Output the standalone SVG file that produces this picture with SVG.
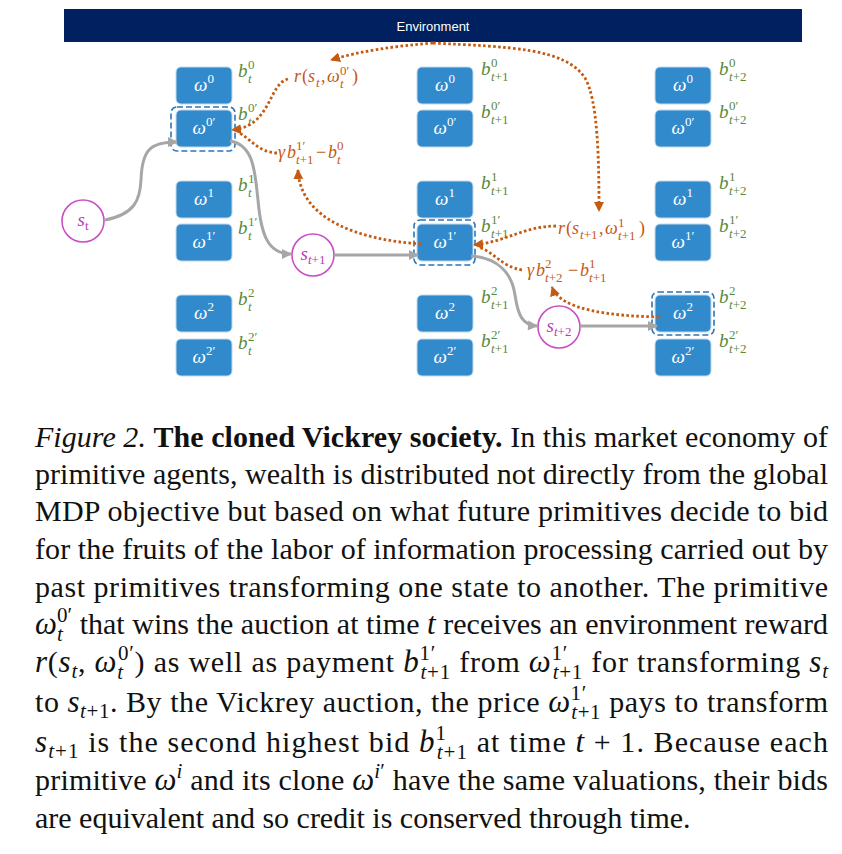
<svg xmlns="http://www.w3.org/2000/svg" width="842" height="854" viewBox="0 0 842 854">
<defs>
<style>
.box{fill:#318ACC;stroke:#C5D8EA;stroke-width:1}
.sel{fill:none;stroke:#2E75B6;stroke-width:1.6;stroke-dasharray:6 3}
.nt{font-family:"Liberation Serif",serif;font-style:italic;font-size:19px;fill:#fff;text-anchor:middle}
.ns{font-size:13px;font-style:normal}
.gl{font-family:"Liberation Serif",serif;font-style:italic;font-size:19px;fill:#5B8A3C}
.gs{font-size:13px;font-style:normal}
.i{font-style:italic}
.ol{font-family:"Liberation Serif",serif;font-size:18px;fill:#C55A11}
.os{font-size:13px}
.st{fill:#fff;stroke:#C94FC4;stroke-width:1.6}
.stt{font-family:"Liberation Serif",serif;font-style:italic;font-size:19px;fill:#B83DB3;text-anchor:middle}
.gr{fill:none;stroke:#A6A6A6;stroke-width:3}
.or{fill:none;stroke:#C55A11;stroke-width:2.8;stroke-dasharray:2.6 2.4}
.cap{font-family:"Liberation Serif","Times New Roman",serif;font-size:30px;fill:#111}
.b{font-weight:bold}
.m{font-style:italic;font-size:31px}
.sc{font-size:21px}
</style>
<marker id="ga" viewBox="0 0 10 10" refX="9" refY="5" markerWidth="11" markerHeight="10" markerUnits="userSpaceOnUse" orient="auto"><path d="M0,0 L10,5 L0,10 z" fill="#A6A6A6"/></marker>
<marker id="oa" viewBox="0 0 10 10" refX="9" refY="5" markerWidth="10" markerHeight="10" markerUnits="userSpaceOnUse" orient="auto"><path d="M0,0 L10,5 L0,10 z" fill="#C55A11"/></marker>
</defs>
<rect width="842" height="854" fill="#fff"/>

<g id="environment">
<rect x="64" y="9" width="738" height="33" fill="#002060"/>
<text x="433" y="31" font-family="Liberation Sans, sans-serif" font-size="13" fill="#fff" text-anchor="middle">Environment</text>
</g>

<!-- column t -->
<g id="c1-w0"><rect class="box" x="176" y="67" width="56" height="37" rx="5"/><text class="nt" x="204" y="91">ω<tspan class="ns" dy="-8">0</tspan></text>
<text class="gl"><tspan x="238" y="77">b</tspan><tspan class="gs" x="248" y="69">0</tspan><tspan class="gs i" x="248" y="83">t</tspan></text></g>
<g id="c1-w0p"><rect class="box" x="176" y="110" width="56" height="37" rx="5"/><text class="nt" x="204" y="134">ω<tspan class="ns" dy="-8">0′</tspan></text>
<text class="gl"><tspan x="238" y="120">b</tspan><tspan class="gs" x="248" y="112">0′</tspan><tspan class="gs i" x="248" y="126">t</tspan></text>
<rect class="sel" x="171" y="107" width="64" height="44" rx="6"/></g>
<g id="c1-w1"><rect class="box" x="176" y="181" width="56" height="37" rx="5"/><text class="nt" x="204" y="205">ω<tspan class="ns" dy="-8">1</tspan></text>
<text class="gl"><tspan x="238" y="191">b</tspan><tspan class="gs" x="248" y="183">1</tspan><tspan class="gs i" x="248" y="197">t</tspan></text></g>
<g id="c1-w1p"><rect class="box" x="176" y="224" width="56" height="37" rx="5"/><text class="nt" x="204" y="248">ω<tspan class="ns" dy="-8">1′</tspan></text>
<text class="gl"><tspan x="238" y="234">b</tspan><tspan class="gs" x="248" y="226">1′</tspan><tspan class="gs i" x="248" y="240">t</tspan></text></g>
<g id="c1-w2"><rect class="box" x="176" y="295" width="56" height="37" rx="5"/><text class="nt" x="204" y="319">ω<tspan class="ns" dy="-8">2</tspan></text>
<text class="gl"><tspan x="238" y="305">b</tspan><tspan class="gs" x="248" y="297">2</tspan><tspan class="gs i" x="248" y="311">t</tspan></text></g>
<g id="c1-w2p"><rect class="box" x="176" y="339" width="56" height="37" rx="5"/><text class="nt" x="204" y="363">ω<tspan class="ns" dy="-8">2′</tspan></text>
<text class="gl"><tspan x="238" y="349">b</tspan><tspan class="gs" x="248" y="341">2′</tspan><tspan class="gs i" x="248" y="355">t</tspan></text></g>

<!-- column t+1 -->
<g id="c2-w0"><rect class="box" x="417" y="67" width="56" height="37" rx="5"/><text class="nt" x="445" y="91">ω<tspan class="ns" dy="-8">0</tspan></text>
<text class="gl"><tspan x="481" y="75">b</tspan><tspan class="gs" x="491" y="67">0</tspan><tspan class="gs" x="491" y="81"><tspan class="i">t</tspan>+1</tspan></text></g>
<g id="c2-w0p"><rect class="box" x="417" y="110" width="56" height="37" rx="5"/><text class="nt" x="445" y="134">ω<tspan class="ns" dy="-8">0′</tspan></text>
<text class="gl"><tspan x="481" y="118">b</tspan><tspan class="gs" x="491" y="110">0′</tspan><tspan class="gs" x="491" y="124"><tspan class="i">t</tspan>+1</tspan></text></g>
<g id="c2-w1"><rect class="box" x="417" y="181" width="56" height="37" rx="5"/><text class="nt" x="445" y="205">ω<tspan class="ns" dy="-8">1</tspan></text>
<text class="gl"><tspan x="481" y="189">b</tspan><tspan class="gs" x="491" y="181">1</tspan><tspan class="gs" x="491" y="195"><tspan class="i">t</tspan>+1</tspan></text></g>
<g id="c2-w1p"><rect class="box" x="417" y="224" width="56" height="37" rx="5"/><text class="nt" x="445" y="248">ω<tspan class="ns" dy="-8">1′</tspan></text>
<text class="gl"><tspan x="481" y="232">b</tspan><tspan class="gs" x="491" y="224">1′</tspan><tspan class="gs" x="491" y="238"><tspan class="i">t</tspan>+1</tspan></text>
<rect class="sel" x="414" y="220" width="61" height="45" rx="6"/></g>
<g id="c2-w2"><rect class="box" x="417" y="295" width="56" height="37" rx="5"/><text class="nt" x="445" y="319">ω<tspan class="ns" dy="-8">2</tspan></text>
<text class="gl"><tspan x="481" y="303">b</tspan><tspan class="gs" x="491" y="295">2</tspan><tspan class="gs" x="491" y="309"><tspan class="i">t</tspan>+1</tspan></text></g>
<g id="c2-w2p"><rect class="box" x="417" y="339" width="56" height="37" rx="5"/><text class="nt" x="445" y="363">ω<tspan class="ns" dy="-8">2′</tspan></text>
<text class="gl"><tspan x="481" y="347">b</tspan><tspan class="gs" x="491" y="339">2′</tspan><tspan class="gs" x="491" y="353"><tspan class="i">t</tspan>+1</tspan></text></g>

<!-- column t+2 -->
<g id="c3-w0"><rect class="box" x="655" y="67" width="56" height="37" rx="5"/><text class="nt" x="683" y="91">ω<tspan class="ns" dy="-8">0</tspan></text>
<text class="gl"><tspan x="719" y="75">b</tspan><tspan class="gs" x="729" y="67">0</tspan><tspan class="gs" x="729" y="81"><tspan class="i">t</tspan>+2</tspan></text></g>
<g id="c3-w0p"><rect class="box" x="655" y="110" width="56" height="37" rx="5"/><text class="nt" x="683" y="134">ω<tspan class="ns" dy="-8">0′</tspan></text>
<text class="gl"><tspan x="719" y="118">b</tspan><tspan class="gs" x="729" y="110">0′</tspan><tspan class="gs" x="729" y="124"><tspan class="i">t</tspan>+2</tspan></text></g>
<g id="c3-w1"><rect class="box" x="655" y="181" width="56" height="37" rx="5"/><text class="nt" x="683" y="205">ω<tspan class="ns" dy="-8">1</tspan></text>
<text class="gl"><tspan x="719" y="189">b</tspan><tspan class="gs" x="729" y="181">1</tspan><tspan class="gs" x="729" y="195"><tspan class="i">t</tspan>+2</tspan></text></g>
<g id="c3-w1p"><rect class="box" x="655" y="224" width="56" height="37" rx="5"/><text class="nt" x="683" y="248">ω<tspan class="ns" dy="-8">1′</tspan></text>
<text class="gl"><tspan x="719" y="232">b</tspan><tspan class="gs" x="729" y="224">1′</tspan><tspan class="gs" x="729" y="238"><tspan class="i">t</tspan>+2</tspan></text></g>
<g id="c3-w2"><rect class="box" x="655" y="295" width="56" height="37" rx="5"/><text class="nt" x="683" y="319">ω<tspan class="ns" dy="-8">2</tspan></text>
<text class="gl"><tspan x="719" y="303">b</tspan><tspan class="gs" x="729" y="295">2</tspan><tspan class="gs" x="729" y="309"><tspan class="i">t</tspan>+2</tspan></text>
<rect class="sel" x="652" y="292" width="62" height="43" rx="6"/></g>
<g id="c3-w2p"><rect class="box" x="655" y="339" width="56" height="37" rx="5"/><text class="nt" x="683" y="363">ω<tspan class="ns" dy="-8">2′</tspan></text>
<text class="gl"><tspan x="719" y="347">b</tspan><tspan class="gs" x="729" y="339">2′</tspan><tspan class="gs" x="729" y="353"><tspan class="i">t</tspan>+2</tspan></text></g>

<!-- states -->
<g id="s-t"><circle class="st" cx="83" cy="221" r="21"/><text class="stt" x="83" y="226">s<tspan class="ns" dy="4">t</tspan></text></g>
<g id="s-t1"><circle class="st" cx="313" cy="255" r="21"/><text class="stt" x="313" y="260">s<tspan class="ns" dy="4"><tspan class="i">t</tspan>+1</tspan></text></g>
<g id="s-t2"><circle class="st" cx="559" cy="327" r="21"/><text class="stt" x="559" y="332">s<tspan class="ns" dy="4"><tspan class="i">t</tspan>+2</tspan></text></g>

<!-- payment labels -->
<g id="labels">
<text class="ol"><tspan class="i" x="294" y="82">r</tspan><tspan x="302" y="82">(</tspan><tspan class="i" x="308" y="82">s</tspan><tspan class="os i" x="316" y="87">t</tspan><tspan x="321" y="82">,</tspan><tspan class="i" x="327" y="82">ω</tspan><tspan class="os" x="340" y="75">0′</tspan><tspan class="os i" x="340" y="88">t</tspan><tspan x="352" y="82">)</tspan></text>
<text class="ol"><tspan class="i" x="278" y="158">γ</tspan><tspan class="i" x="287" y="158">b</tspan><tspan class="os" x="296" y="150">1′</tspan><tspan class="os" x="296" y="164"><tspan class="i">t</tspan>+1</tspan><tspan x="316" y="158">−</tspan><tspan class="i" x="328" y="158">b</tspan><tspan class="os" x="337" y="150">0</tspan><tspan class="os i" x="337" y="164">t</tspan></text>
<text class="ol"><tspan class="i" x="558" y="234">r</tspan><tspan x="566" y="234">(</tspan><tspan class="i" x="572" y="234">s</tspan><tspan class="os" x="580" y="239"><tspan class="i">t</tspan>+1</tspan><tspan x="599" y="234">,</tspan><tspan class="i" x="605" y="234">ω</tspan><tspan class="os" x="618" y="227">1</tspan><tspan class="os" x="618" y="240"><tspan class="i">t</tspan>+1</tspan><tspan x="639" y="234">)</tspan></text>
<text class="ol"><tspan class="i" x="527" y="276">γ</tspan><tspan class="i" x="536" y="276">b</tspan><tspan class="os" x="545" y="268">2</tspan><tspan class="os" x="545" y="282"><tspan class="i">t</tspan>+2</tspan><tspan x="568" y="276">−</tspan><tspan class="i" x="580" y="276">b</tspan><tspan class="os" x="589" y="268">1</tspan><tspan class="os" x="589" y="282"><tspan class="i">t</tspan>+1</tspan></text>
</g>

<g id="connectors">
<path class="gr" d="M105,220 C135,214 140,200 141,180 C142,150 150,142 177,142" marker-end="url(#ga)"/>
<path class="gr" d="M230,141 C255,145 255,175 258,200 C261,235 268,254 291,254" marker-end="url(#ga)"/>
<path class="gr" d="M334,255 L418,255" marker-end="url(#ga)"/>
<path class="gr" d="M471,256 C500,258 512,275 515,295 C518,315 522,325 537,326" marker-end="url(#ga)"/>
<path class="gr" d="M580,326 L657,326" marker-end="url(#ga)"/>
<path class="or" d="M433,43 C395,46 360,51 331,60" marker-end="url(#oa)"/>
<path class="or" d="M433,43 C510,47 565,48 585,78 C598,100 599,160 599,211" marker-end="url(#oa)"/>
<path class="or" d="M288,79 C268,84 272,126 232,130" marker-end="url(#oa)"/>
<path class="or" d="M277,153 C258,152 252,140 238,132"/>
<path class="or" d="M421,244 C360,240 300,220 298,170" marker-end="url(#oa)"/>
<path class="or" d="M556,226 C525,226 505,242 474,245" marker-end="url(#oa)"/>
<path class="or" d="M522,270 C500,266 495,252 478,247"/>
<path class="or" d="M659,317 C610,316 560,310 552,287" marker-end="url(#oa)"/>
</g>

<g id="caption">
<text class="cap" x="35" y="447" textLength="793" lengthAdjust="spacing"><tspan class="i">Figure 2.</tspan> <tspan class="b">The cloned Vickrey society.</tspan> In this market economy of</text>
<text class="cap" x="35" y="484" textLength="793" lengthAdjust="spacing">primitive agents, wealth is distributed not directly from the global</text>
<text class="cap" x="35" y="521" textLength="793" lengthAdjust="spacing">MDP objective but based on what future primitives decide to bid</text>
<text class="cap" x="35" y="559" textLength="793" lengthAdjust="spacing">for the fruits of the labor of information processing carried out by</text>
<text class="cap" x="35" y="597" textLength="793" lengthAdjust="spacing">past primitives transforming one state to another. The primitive</text>
<text class="cap" x="35" y="634" textLength="793" lengthAdjust="spacing"><tspan class="m">ω</tspan><tspan class="sc i" dy="7">t</tspan><tspan class="sc" dx="-5.8" dy="-19">0′</tspan><tspan dy="12"> that wins the auction at time </tspan><tspan class="m">t</tspan><tspan> receives an environment reward</tspan></text>
<text class="cap" x="35" y="672" textLength="793" lengthAdjust="spacing"><tspan class="m">r</tspan>(<tspan class="m">s</tspan><tspan class="sc i" dy="6">t</tspan><tspan dy="-6">, </tspan><tspan class="m">ω</tspan><tspan class="sc i" dy="7">t</tspan><tspan class="sc" dx="-5.8" dy="-19">0′</tspan><tspan dy="12">) as well as payment </tspan><tspan class="m">b</tspan><tspan class="sc" dy="-12">1′</tspan><tspan class="sc" dx="-15.5" dy="19"><tspan class="i">t</tspan>+1</tspan><tspan dy="-7"> from </tspan><tspan class="m">ω</tspan><tspan class="sc" dy="-12">1′</tspan><tspan class="sc" dx="-15.5" dy="19"><tspan class="i">t</tspan>+1</tspan><tspan dy="-7"> for transforming </tspan><tspan class="m">s</tspan><tspan class="sc i" dy="6">t</tspan></text>
<text class="cap" x="35" y="712" textLength="793" lengthAdjust="spacing">to <tspan class="m">s</tspan><tspan class="sc" dy="6"><tspan class="i">t</tspan>+1</tspan><tspan dy="-6">. By the Vickrey auction, the price </tspan><tspan class="m">ω</tspan><tspan class="sc" dy="-12">1′</tspan><tspan class="sc" dx="-15.5" dy="19"><tspan class="i">t</tspan>+1</tspan><tspan dy="-7"> pays to transform</tspan></text>
<text class="cap" x="35" y="752" textLength="793" lengthAdjust="spacing"><tspan class="m">s</tspan><tspan class="sc" dy="6"><tspan class="i">t</tspan>+1</tspan><tspan dy="-6"> is the second highest bid </tspan><tspan class="m">b</tspan><tspan class="sc" dy="-12">1</tspan><tspan class="sc" dx="-10.5" dy="19"><tspan class="i">t</tspan>+1</tspan><tspan dy="-7"> at time </tspan><tspan class="m">t</tspan><tspan> + 1. Because each</tspan></text>
<text class="cap" x="35" y="790" textLength="793" lengthAdjust="spacing">primitive <tspan class="m">ω</tspan><tspan class="sc i" dy="-12">i</tspan><tspan dy="12"> and its clone </tspan><tspan class="m">ω</tspan><tspan class="sc" dy="-12"><tspan class="i">i</tspan>′</tspan><tspan dy="12"> have the same valuations, their bids</tspan></text>
<text class="cap" x="35" y="828">are equivalent and so credit is conserved through time.</text>
</g>
</svg>
